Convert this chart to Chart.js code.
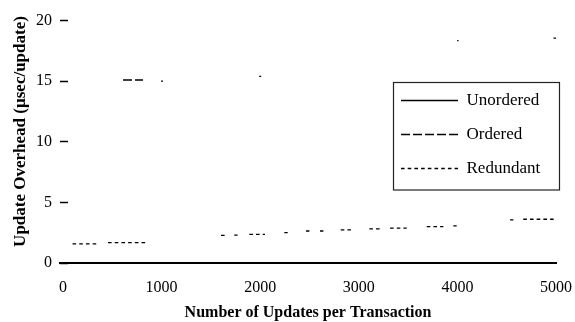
<!DOCTYPE html>
<html>
<head>
<meta charset="utf-8">
<script src="https://cdn.jsdelivr.net/npm/chart.js@4/dist/chart.umd.min.js"></script>
<style>
  html, body { margin: 0; padding: 0; background: #fff; }
</style>
</head>
<body>
<canvas id="chart" width="575" height="322"></canvas>
<script>
// Axis ticks
const xTicks = [0, 1000, 2000, 3000, 4000, 5000];
const yTicks = [0, 5, 10, 15, 20];

// Series, stored as drawn stretches: start x, end x, value (µsec/update)
const unorderedStart = [];
const unorderedEnd = [];
const unorderedValue = [];

const orderedStart = [609, 995, 1990, 3998, 4975];
const orderedEnd   = [812, 1015, 2010, 4012, 5000];
const orderedValue = [15.1, 15.0, 15.4, 18.35, 18.55];

const redundantStart = [97, 457, 1603, 1737, 1890, 2245, 2465, 2607, 2817, 3107, 3317, 3689, 3959, 4534, 4668];
const redundantEnd   = [345, 849, 1640, 1771, 2049, 2279, 2499, 2641, 2921, 3215, 3486, 3857, 3993, 4568, 4976];
const redundantValue = [1.57, 1.68, 2.28, 2.3, 2.37, 2.5, 2.64, 2.64, 2.73, 2.81, 2.87, 3.0, 3.06, 3.55, 3.61];

const seriesNames = ['Unordered', 'Ordered', 'Redundant'];

// Turn stretches into line points, with a null break after each one
function stretches(starts, ends, values) {
  const pts = [];
  starts.forEach((s, i) => {
    pts.push({ x: s, y: values[i] }, { x: ends[i], y: values[i] }, { x: ends[i], y: null });
  });
  return pts;
}

const serif = 'Liberation Serif, Times New Roman, serif';

// Puts the legend inside the plot and frames it
const legendFrame = {
  id: 'legendFrame',
  afterUpdate(chart) {
    const lg = chart.legend;
    const pad = lg.options.labels.padding;
    const h = lg.height, w = lg.width;
    lg.left = 401 - pad;
    lg.top = 92 - pad;
    lg.right = lg.left + w;
    lg.bottom = lg.top + h;
  },
  afterDraw(chart) {
    const ctx = chart.ctx;
    ctx.save();
    ctx.strokeStyle = '#222';
    ctx.lineWidth = 1.2;
    ctx.strokeRect(393.5, 82.5, 166, 107.5);
    ctx.restore();
  }
};

new Chart(document.getElementById('chart'), {
  type: 'line',
  data: {
    datasets: [
      { label: seriesNames[0], data: stretches(unorderedStart, unorderedEnd, unorderedValue), borderDash: [] },
      { label: seriesNames[1], data: stretches(orderedStart, orderedEnd, orderedValue), borderDash: [9, 3] },
      { label: seriesNames[2], data: stretches(redundantStart, redundantEnd, redundantValue), borderDash: [3.6, 3.1] }
    ].map(ds => Object.assign(ds, {
      borderColor: '#000',
      backgroundColor: '#000',
      borderWidth: 1.3,
      pointRadius: 0,
      spanGaps: false,
      tension: 0
    }))
  },
  options: {
    responsive: false,
    animation: false,
    devicePixelRatio: 1,
    layout: { padding: { left: 0, right: 19, top: 0, bottom: 0 } },
    plugins: {
      tooltip: { enabled: false },
      legend: {
        position: 'chartArea',
        align: 'start',
        labels: {
          color: '#000',
          font: { family: serif, size: 17, lineHeight: 1 },
          padding: 17,
          boxWidth: 61,
          boxHeight: 17,
          usePointStyle: true,
          pointStyle: 'line',
          pointStyleWidth: 57,
          generateLabels(chart) {
            return chart.data.datasets.map((ds, i) => ({
              text: ds.label,
              fillStyle: ds.borderColor,
              strokeStyle: ds.borderColor,
              lineWidth: ds.borderWidth,
              lineDash: ds.borderDash,
              pointStyle: 'line',
              fontColor: '#000',
              hidden: false,
              datasetIndex: i
            }));
          }
        }
      }
    },
    scales: {
      x: {
        type: 'linear',
        min: -30,
        max: 5000,
        afterBuildTicks(scale) { scale.ticks = xTicks.map(v => ({ value: v })); },
        afterFit(scale) { scale.height = 59; scale.paddingRight = 0; },
        ticks: {
          color: '#000',
          font: { family: serif, size: 16 },
          padding: 15,
          maxRotation: 0,
          autoSkip: false,
          callback: v => String(v)
        },
        grid: { display: true, drawOnChartArea: false, drawTicks: false },
        border: { display: true, color: '#000', width: 2 },
        title: {
          display: true,
          text: 'Number of Updates per Transaction',
          color: '#000',
          font: { family: serif, size: 16, weight: 'bold' },
          padding: { top: 0, bottom: 0 }
        }
      },
      y: {
        type: 'linear',
        min: 0,
        max: 21.7,
        afterBuildTicks(scale) { scale.ticks = yTicks.map(v => ({ value: v })); },
        afterFit(scale) { scale.width = 60; scale.paddingTop = 0; scale.paddingBottom = 0; },
        ticks: {
          color: '#000',
          font: { family: serif, size: 16 },
          padding: 16,
          callback: v => String(v)
        },
        grid: {
          display: true,
          drawOnChartArea: false,
          drawTicks: true,
          tickLength: -8,
          tickColor: '#000',
          tickWidth: 1.5
        },
        border: { display: false },
        title: {
          display: true,
          text: 'Update Overhead (µsec/update)',
          color: '#000',
          font: { family: serif, size: 17, weight: 'bold' },
          padding: { top: 10, bottom: 0 }
        }
      }
    }
  },
  plugins: [legendFrame]
});
</script>
</body>
</html>
